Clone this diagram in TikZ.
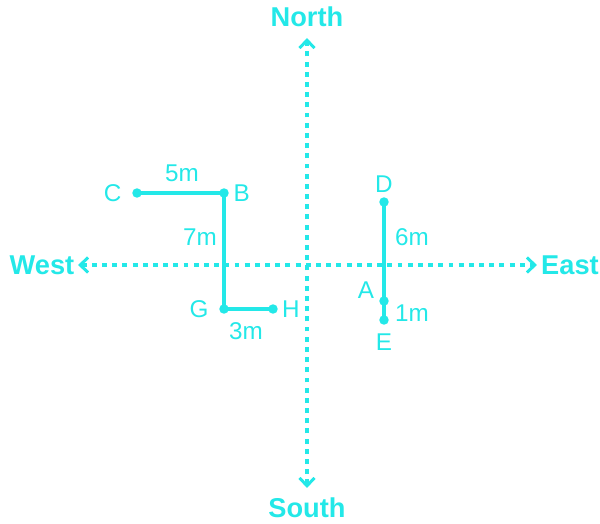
\documentclass[tikz,border=0pt]{standalone}
\usepackage{fontspec}
\setmainfont{Liberation Sans}
\usetikzlibrary{
    positioning, % relative placement of labels
    arrows.meta
}
\definecolor{aqua}{RGB}{35,232,232}

\begin{document}
\begin{tikzpicture}[x=0.02cm, y=-0.02cm]

    % --- Styles ---
    \tikzset{
        axis/.style={aqua, line width=2pt, dash pattern=on 2.8pt off 3pt,
                     {Straight Barb[length=4.5pt, width=8.5pt, line width=1.7pt]}-{Straight Barb[length=4.5pt, width=8.5pt, line width=1.7pt]}},
        walk/.style={aqua, line width=1.75pt},
        dot/.style={circle, fill=aqua, inner sep=0pt, minimum size=0.19cm},
        dir_label/.style={text=aqua, font=\fontsize{15.5}{18}\selectfont\bfseries, inner sep=1pt},
        point_label/.style={text=aqua, font=\fontsize{13.8}{16}\selectfont, inner sep=1pt},
        dist_label/.style={point_label}
    }

    \useasboundingbox (0,0) rectangle (600,524);

    % --- Directions ---
    \node[dir_label] (north) at (307,17) {North};
    \node[dir_label] (south) at (307,508) {South};
    \node[dir_label] (west) at (42,265) {West};
    \node[dir_label] (east) at (570,265) {East};

    \coordinate (n_tip) at (307,38);
    \coordinate (s_tip) at (307,488);
    \coordinate (w_tip) at (78,265);
    \coordinate (e_tip) at (537,265);

    \draw[axis] (s_tip) -- (n_tip);
    \draw[axis] (w_tip) -- (e_tip);

    % --- Points ---
    \node[dot] (c) at (137,193) {};
    \node[dot] (b) at (224,193) {};
    \node[dot] (g) at (224,309) {};
    \node[dot] (h) at (273,309) {};
    \node[dot] (d) at (384,202) {};
    \node[dot] (a) at (384,301) {};
    \node[dot] (e) at (384,320) {};

    % --- Paths walked ---
    \draw[walk] (c.center) -- (b.center) -- (g.center) -- (h.center);
    \draw[walk] (d.center) -- (a.center) -- (e.center);

    % --- Point labels ---
    \node[point_label, left=0.27cm of c.center] (c_label) {C};
    \node[point_label, right=0.15cm of b.center] (b_label) {B};
    \node[point_label, left=0.27cm of g.center] (g_label) {G};
    \node[point_label, right=0.14cm of h.center] (h_label) {H};
    \node[point_label, above=0.15cm of d.center] (d_label) {D};
    \node[point_label, below=0.24cm of e.center] (e_label) {E};
    \node[point_label] (a_label) at (366,290) {A};

    % --- Distances ---
    \node[dist_label] (cb_dist) at (182,173) {5m};
    \node[dist_label] (bg_dist) at (200,237) {7m};
    \node[dist_label] (gh_dist) at (246,331) {3m};
    \node[dist_label] (da_dist) at (412,237) {6m};
    \node[dist_label] (ae_dist) at (412,313) {1m};

\end{tikzpicture}
\end{document}
